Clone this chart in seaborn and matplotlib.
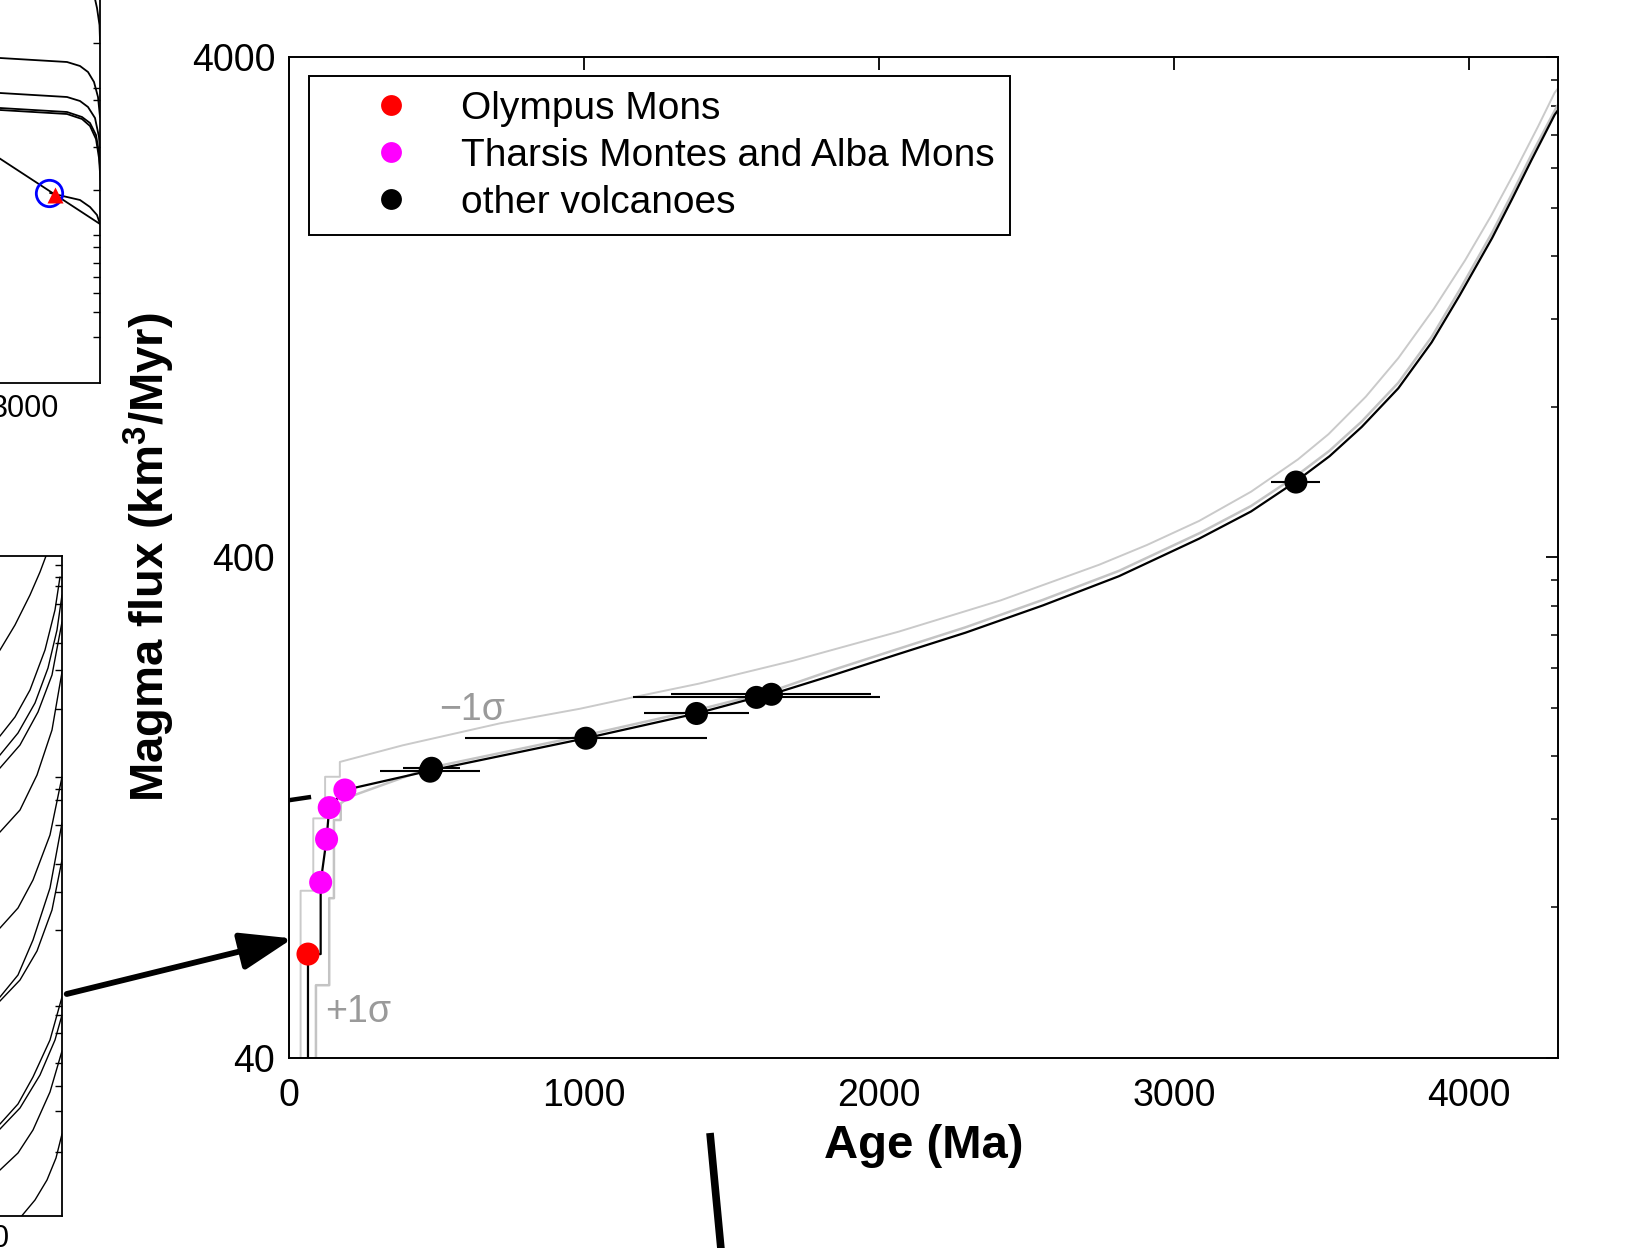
import numpy as np
import pandas as pd
import matplotlib
matplotlib.use("Agg")
import matplotlib.pyplot as plt
import seaborn as sns
from matplotlib.lines import Line2D
from matplotlib.ticker import FixedLocator, NullFormatter, NullLocator

# ---------------- data ----------------
olympus_age = [64]
olympus_flux = [64.4]
tharsis_age = [107, 127, 136, 189]
tharsis_flux = [89.6, 109.3, 126.4, 137.1]
other_age = [478, 483, 1006, 1381, 1584, 1635, 3413]
other_flux = [149.5, 151.5, 174, 195, 210, 213, 566]
other_age_err = [170, 97, 410, 177, 418, 339, 83]

fit_age = [64, 64, 107, 107, 127, 136, 189, 480, 1006, 1381, 1584, 1635, 1841, 2060, 2293,
           2555, 2813, 3085, 3261, 3410, 3527, 3636, 3760, 3873, 3968, 4078, 4145, 4212,
           4290, 4300]
fit_flux = [30, 64.4, 64.4, 89.6, 109.3, 126.4, 137.1, 150, 174, 195, 210, 213, 232.4,
            255.8, 282.9, 320.7, 366.9, 436.2, 494.4, 566, 637.6, 729.6, 871.6, 1077,
            1337, 1741, 2080, 2497, 3071, 3130]

minus_age = [39, 39, 82, 82, 122, 122, 172, 172, 385, 714, 986, 1166, 1389, 1707, 2067,
             2413, 2746, 2908, 3085, 3261, 3420, 3523, 3650, 3760, 3880, 3986, 4074, 4155,
             4233, 4290, 4300]
minus_flux = [30, 86.2, 86.2, 120.3, 120.3, 145.7, 145.7, 156, 168.4, 186.3, 199.3, 210.1,
              223.7, 248.5, 284.3, 328.4, 386.8, 423.6, 473.3, 541.5, 628.4, 705.3, 838.8,
              1001.6, 1256, 1570, 1926, 2363, 2904, 3400, 3460]

plus_age = [91, 91, 136, 136, 152, 152, 175, 175, 207, 480, 1006, 1381, 1635, 1841, 2060,
            2293, 2555, 2813, 3085, 3261, 3410, 3527, 3636, 3760, 3873, 3968, 4078, 4145,
            4212, 4300]
plus_flux = [30, 55.8, 55.8, 83.3, 83.3, 119.4, 119.4, 128.9, 133, 152, 176.5, 198, 216,
             238, 262, 290, 329, 376, 447, 507, 580, 654, 748, 894, 1104, 1371, 1785, 2132,
             2560, 3210]

dash_age = [0, 175]
dash_flux = [130.8, 135.5]

x_ticks = [0, 1000, 2000, 3000, 4000]
y_major = [40, 400, 4000]
y_major_labels = ["40", "400", "4000"]
y_minor = [80, 120, 160, 200, 240, 280, 320, 360,
           800, 1200, 1600, 2000, 2400, 2800, 3200, 3600]

legend_labels = ["Olympus Mons", "Tharsis Montes and Alba Mons", "other volcanoes"]
group_colors = ["#ff0000", "#ff00ff", "#000000"]

# fragments of neighbouring panels of the composite figure (panel pixel units)
tl_curves = [
    ([-50, 0, 67, 80, 88, 94, 98, 100], [56, 58, 62, 66, 72, 82, 97, 117]),
    ([-50, 0, 67, 80, 88, 95, 99, 100.5], [91, 93, 97, 101, 107, 118, 137, 157]),
    ([-50, 0, 67, 82, 90, 96, 99, 100.5], [106, 108, 112, 117, 123, 135, 153, 173]),
    ([-50, 0, 67, 82, 90, 96, 99, 100.5], [108, 110, 114, 119, 126, 139, 158, 180]),
    ([-50, 100], [126, 224]),
    ([50, 67, 80, 90, 97, 100], [193, 197, 200, 207, 215, 224]),
    ([93, 97, 99.5, 100], [-10, 8, 25, 40]),
]
tl_circle = ([49], [193])
tl_triangle = ([55], [195])
tl_right_ticks = [43, 88, 100, 147, 190, 235, 247, 263, 277, 293, 312, 337]

bl_curves = [
    ([-30, 0, 15, 30, 40, 46], [690, 650, 625, 595, 572, 556]),
    ([-40, 0, 15, 30, 45, 55, 60], [775, 736, 717, 690, 650, 610, 577]),
    ([-40, 0, 18, 35, 48, 57, 62], [792, 755, 733, 703, 668, 630, 595]),
    ([-40, 0, 20, 38, 52, 62], [805, 768, 745, 712, 675, 622]),
    ([-40, 0, 20, 37, 52, 62], [868, 832, 810, 775, 730, 672]),
    ([-40, 0, 18, 33, 50, 62], [962, 928, 908, 880, 835, 777]),
    ([-40, 0, 18, 33, 50, 62], [1030, 997, 975, 940, 888, 823]),
    ([-40, 0, 20, 37, 52, 62], [1034, 1001, 980, 951, 910, 860]),
    ([-40, 0, 18, 33, 50, 62], [1155, 1124, 1104, 1077, 1040, 997]),
    ([-40, 0, 20, 40, 55, 62], [1160, 1129, 1108, 1075, 1040, 1015]),
    ([-40, 0, 18, 33, 50, 62], [1198, 1170, 1153, 1130, 1092, 1051]),
    ([20, 35, 47, 56, 62], [1218, 1200, 1180, 1158, 1134]),
]
bl_right_ticks = [565, 577, 586, 604, 643, 670, 709, 777, 789, 800, 825, 864, 892, 930,
                  1006, 1015, 1033, 1063, 1086, 1111, 1152]

arrow_tail_px = (66.7, 1248 - 994)
arrow_tip = (12, 69.2)
bottom_bar_px = ([710, 722], [1133, 1260])

# ---------------- style ----------------
sns.set_theme(style="white")
plt.rcParams["font.family"] = ["Liberation Sans", "DejaVu Sans"]
plt.rcParams["mathtext.fontset"] = "custom"
plt.rcParams["mathtext.rm"] = "Liberation Sans"
plt.rcParams["mathtext.bf"] = "Liberation Sans:bold"
plt.rcParams["lines.scale_dashes"] = False
plt.rcParams["lines.solid_joinstyle"] = "round"
plt.rcParams["text.color"] = "black"
plt.rcParams["axes.labelcolor"] = "black"
plt.rcParams["xtick.color"] = "black"
plt.rcParams["ytick.color"] = "black"

W, H = 1637, 1248
fig = plt.figure(figsize=(W / 100, H / 100), dpi=100)
fig.patch.set_facecolor("white")

# ---------------- side fragments ----------------
ax_tl = fig.add_axes([-300 / W, (H - 383) / H, 400 / W, 433 / H])
ax_tl.set_xlim(-300, 100)
ax_tl.set_ylim(383, -50)
for xs, ys in tl_curves:
    sns.lineplot(x=xs, y=ys, sort=False, estimator=None, color="black", lw=1.3, ax=ax_tl)
ax_tl.plot(tl_circle[0], tl_circle[1], "o", ms=19, mfc="none", mec="#0000ff", mew=2.0)
ax_tl.plot(tl_triangle[0], tl_triangle[1], "^", ms=11, color="#ff0000", mec="none")
for s in ax_tl.spines.values():
    s.set_linewidth(1.3)
    s.set_color("black")
ax_tl.set_yticks(tl_right_ticks)
ax_tl.set_yticklabels([])
ax_tl.set_xticks([5, 25])
ax_tl.set_xticklabels(["", "3000"])
ax_tl.tick_params(axis="y", direction="in", length=5, width=1.0, left=False, right=True,
                  labelleft=False)
ax_tl.tick_params(axis="x", direction="in", length=8, width=1.0, labelsize=22, pad=8,
                  colors="black")
ax_tl.set_xlabel("")
ax_tl.set_ylabel("")

ax_bl = fig.add_axes([-600 / W, (H - 1216) / H, 662 / W, (1216 - 556) / H])
ax_bl.set_xlim(-600, 62)
ax_bl.set_ylim(1216, 556)
for xs, ys in bl_curves:
    sns.lineplot(x=xs, y=ys, sort=False, estimator=None, color="black", lw=1.0, ax=ax_bl)
for s in ax_bl.spines.values():
    s.set_linewidth(1.3)
    s.set_color("black")
ax_bl.set_yticks(bl_right_ticks)
ax_bl.set_yticklabels([])
ax_bl.set_xticks([0])
ax_bl.set_xticklabels(["0"])
ax_bl.tick_params(axis="y", direction="in", length=5, width=1.0, left=False, right=True,
                  labelleft=False)
ax_bl.tick_params(axis="x", direction="in", length=0, labelsize=22, pad=6, colors="black")
ax_bl.set_xlabel("")
ax_bl.set_ylabel("")

# ---------------- main axes ----------------
ax = fig.add_axes([289.1 / W, (H - 1057.5) / H, (1557.6 - 289.1) / W, (1057.5 - 57.4) / H])
ax.set_yscale("log")
ax.set_xlim(0, 4300)
ax.set_ylim(40, 4000)

sns.lineplot(x=minus_age, y=minus_flux, sort=False, estimator=None, color="#cacaca",
             lw=1.4, ax=ax, zorder=2)
sns.lineplot(x=plus_age, y=plus_flux, sort=False, estimator=None, color="#c4c4c4",
             lw=1.8, ax=ax, zorder=2)
sns.lineplot(x=fit_age, y=fit_flux, sort=False, estimator=None, color="black",
             lw=1.6, ax=ax, zorder=3)
sns.lineplot(x=dash_age, y=dash_flux, sort=False, estimator=None, color="black",
             lw=3.2, linestyle=(0, (16, 18, 3, 60)), ax=ax, zorder=3)

ax.errorbar(other_age, other_flux, xerr=other_age_err, fmt="none", ecolor="black",
            elinewidth=1.5, capsize=0, zorder=4)

df = pd.DataFrame({
    "age": olympus_age + tharsis_age + other_age,
    "flux": olympus_flux + tharsis_flux + other_flux,
    "group": [legend_labels[0]] * len(olympus_age) + [legend_labels[1]] * len(tharsis_age)
             + [legend_labels[2]] * len(other_age),
})
sns.scatterplot(data=df, x="age", y="flux", hue="group",
                palette=dict(zip(legend_labels, group_colors)), s=275, edgecolor="none",
                linewidth=0, legend=False, ax=ax, zorder=5)

ax.text(620, 198, "\u22121\u03c3", color="#9a9a9a", fontsize=27, ha="center", va="center")
ax.text(233, 49.3, "+1\u03c3", color="#9a9a9a", fontsize=27, ha="center", va="center")

ax.xaxis.set_major_locator(FixedLocator(x_ticks))
ax.xaxis.set_minor_locator(NullLocator())
ax.set_xticklabels([str(v) for v in x_ticks])
ax.yaxis.set_major_locator(FixedLocator(y_major))
ax.set_yticklabels(y_major_labels)
ax.yaxis.set_minor_locator(FixedLocator(y_minor))
ax.yaxis.set_minor_formatter(NullFormatter())
ax.tick_params(which="major", direction="in", length=9, width=1.3, top=True, right=True,
               labelsize=27, pad=10, colors="black")
ax.tick_params(which="minor", direction="in", length=5, width=1.1, top=True, right=True)
ax.tick_params(axis="x", which="major", pad=15)
for s in ax.spines.values():
    s.set_linewidth(1.4)
    s.set_color("black")

ax.set_xlabel("Age (Ma)", fontsize=34, fontweight="bold", va="center", color="black")
ax.xaxis.set_label_coords(0.5, -0.0885)
ax.set_ylabel(r"Magma flux (km$^{\mathbf{3}}$/Myr)", fontsize=34, fontweight="bold",
              va="center", color="black")
ax.yaxis.set_label_coords(-0.1104, 0.5)

handles = [Line2D([], [], marker="o", ls="", color=c, mec="none", markersize=15)
           for c in group_colors]
leg = ax.legend(handles, legend_labels, loc="upper left", bbox_to_anchor=(0.0157, 0.9814),
                borderaxespad=0, fontsize=28, frameon=True, fancybox=False,
                borderpad=0.38, handlelength=3.44, handletextpad=0.1, labelspacing=0.28,
                labelcolor="black")
leg.get_frame().set_edgecolor("black")
leg.get_frame().set_linewidth(1.4)
leg.get_frame().set_alpha(1)
leg.set_zorder(6)

# connecting arrow and bar from the surrounding composite figure
ax.annotate("", xy=arrow_tip, xycoords="data", xytext=arrow_tail_px,
            textcoords="figure pixels", annotation_clip=False,
            arrowprops=dict(arrowstyle="-|>,head_length=3.2,head_width=1.15",
                            mutation_scale=10, lw=4.2, color="black",
                            shrinkA=0, shrinkB=0))
fig.add_artist(Line2D([x / W for x in bottom_bar_px[0]],
                      [1 - y / H for y in bottom_bar_px[1]],
                      transform=fig.transFigure, lw=5.5, color="black",
                      solid_capstyle="butt"))

fig.savefig("out.png", dpi=100, facecolor="white")
